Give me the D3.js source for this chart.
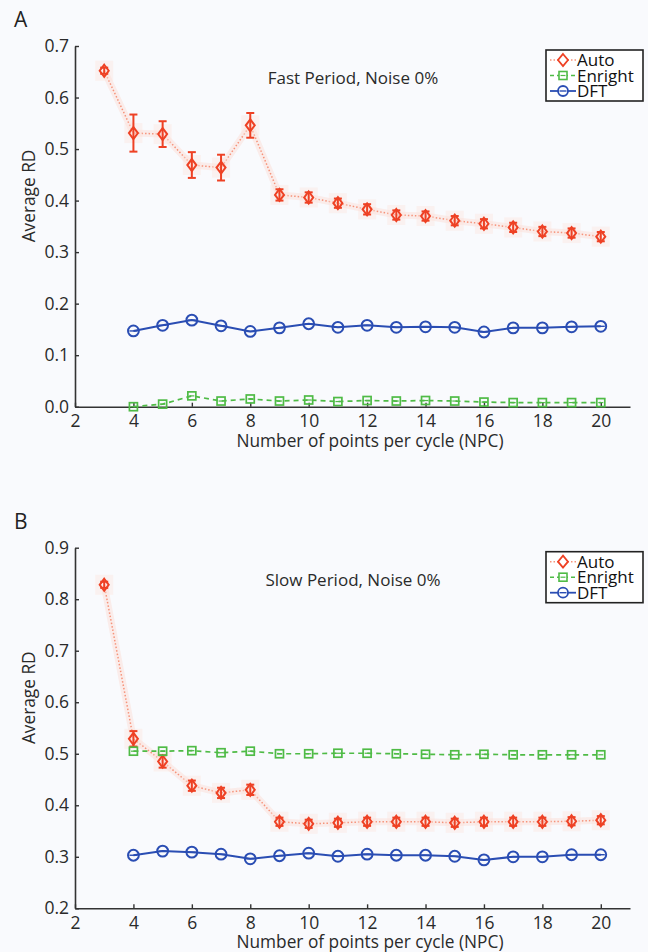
<!DOCTYPE html>
<html>
<head>
<meta charset="utf-8">
<script src="https://cdn.jsdelivr.net/npm/d3@7"></script>
<style>
  body { margin: 0; background: #f9fafd; }
  svg { display: block; font-family: "Open Sans", "Noto Sans", sans-serif; }
</style>
</head>
<body>
<div id="chart"></div>
<script>
// x values (number of points per cycle)
const npcAuto = [3,4,5,6,7,8,9,10,11,12,13,14,15,16,17,18,19,20]
const npc = [4,5,6,7,8,9,10,11,12,13,14,15,16,17,18,19,20]
const xTicks = [2,4,6,8,10,12,14,16,18,20]

// panel A - fast period
const autoFast = [0.652,0.531,0.529,0.469,0.464,0.546,0.411,0.406,0.395,0.383,0.372,0.370,0.361,0.355,0.348,0.340,0.337,0.330]
const autoFastErr = [0.006,0.036,0.025,0.025,0.025,0.024,0.011,0.010,0.009,0.010,0.009,0.009,0.009,0.009,0.009,0.009,0.009,0.009]
const enrightFast = [0.000,0.005,0.021,0.011,0.015,0.011,0.013,0.010,0.012,0.011,0.012,0.011,0.009,0.008,0.008,0.008,0.008]
const dftFast = [0.147,0.158,0.168,0.157,0.146,0.153,0.161,0.154,0.158,0.154,0.155,0.154,0.145,0.153,0.153,0.155,0.156]
const yTicksFast = [0.0,0.1,0.2,0.3,0.4,0.5,0.6,0.7]

// panel B - slow period
const autoSlow = [0.828,0.529,0.485,0.438,0.424,0.430,0.368,0.364,0.366,0.368,0.368,0.368,0.366,0.368,0.368,0.368,0.369,0.371]
const autoSlowErr = [0.006,0.015,0.012,0.010,0.010,0.010,0.008,0.008,0.008,0.008,0.008,0.008,0.008,0.008,0.008,0.008,0.008,0.008]
const enrightSlow = [0.505,0.505,0.506,0.502,0.505,0.500,0.500,0.501,0.501,0.500,0.499,0.498,0.499,0.498,0.498,0.498,0.498]
const dftSlow = [0.303,0.311,0.309,0.305,0.296,0.302,0.307,0.301,0.305,0.303,0.303,0.301,0.294,0.300,0.300,0.304,0.304]
const yTicksSlow = [0.2,0.3,0.4,0.5,0.6,0.7,0.8,0.9]

const legendNames = ["Auto", "Enright", "DFT"]

const red = "#ee4124", redLine = "#f6937a", green = "#4fbb46", blue = "#2a4db3", axisCol = "#333"

const svg = d3.select("#chart").append("svg")
    .attr("width", 648)
    .attr("height", 952)

function drawPanel(opt) {
    const g = svg.append("g")
    const x = d3.scaleLinear().domain([2, 21]).range([75, 630])
    const y = d3.scaleLinear().domain(opt.yDomain).range([opt.bottom, opt.top])

    g.append("text").attr("x", 14).attr("y", opt.top - 19)
        .attr("font-size", 21).attr("fill", "#222").text(opt.letter)

    // axes (matlab style, ticks pointing in)
    const xAxis = g.append("g").attr("transform", `translate(0,${opt.bottom})`)
        .call(d3.axisBottom(x).tickValues(xTicks).tickSizeInner(-4).tickSizeOuter(0).tickPadding(8))
    const yAxis = g.append("g").attr("transform", "translate(75,0)")
        .call(d3.axisLeft(y).tickValues(opt.yTicks).tickFormat(d3.format(".1f")).tickSizeInner(-4).tickSizeOuter(0).tickPadding(6))
    for (const a of [xAxis, yAxis]) {
        a.select(".domain").attr("stroke", axisCol).attr("stroke-width", 1.6)
        a.selectAll(".tick line").attr("stroke", axisCol).attr("stroke-width", 1.4)
        a.selectAll(".tick text").attr("font-size", 17.5).attr("fill", "#2a2a2a")
            .attr("font-family", "'Open Sans', sans-serif")
    }

    g.append("text").attr("x", 370).attr("y", opt.bottom + 40)
        .attr("text-anchor", "middle").attr("font-size", 17.3).attr("fill", "#2a2a2a")
        .text("Number of points per cycle (NPC)")
    g.append("text")
        .attr("transform", `translate(35,${opt.top + 150}) rotate(-90)`)
        .attr("text-anchor", "middle").attr("font-size", 17.3).attr("fill", "#2a2a2a")
        .text("Average RD")
    g.append("text").attr("x", 353).attr("y", opt.top + 38)
        .attr("text-anchor", "middle").attr("font-size", 17).attr("fill", "#2a2a2a")
        .text(opt.title)

    // Auto: glowing dotted line with diamonds and error bars
    const autoPts = npcAuto.map((d, i) => ({x: d, y: opt.auto[i], e: opt.autoErr[i]}))
    const autoLine = d3.line().x(d => x(d.x)).y(d => y(d.y))
    g.append("path").datum(autoPts).attr("d", autoLine)
        .attr("fill", "none").attr("stroke", "#fcd8cd").attr("stroke-width", 7).attr("opacity", 0.4)
    g.append("path").datum(autoPts).attr("d", autoLine)
        .attr("fill", "none").attr("stroke", redLine).attr("stroke-width", 1.5)
        .attr("stroke-dasharray", "1.5,2")
    const ag = g.selectAll(".auto").data(autoPts).enter().append("g")
        .attr("transform", d => `translate(${x(d.x)},0)`)
    ag.append("rect").attr("x", -9).attr("y", d => y(d.y) - 10).attr("width", 18).attr("height", 20)
        .attr("fill", "#fde3db").attr("opacity", 0.4)
    ag.append("line").attr("y1", d => y(d.y + d.e)).attr("y2", d => y(d.y - d.e))
        .attr("stroke", red).attr("stroke-width", 2)
    ag.append("line").attr("x1", -4).attr("x2", 4).attr("y1", d => y(d.y + d.e)).attr("y2", d => y(d.y + d.e))
        .attr("stroke", red).attr("stroke-width", 2)
    ag.append("line").attr("x1", -4).attr("x2", 4).attr("y1", d => y(d.y - d.e)).attr("y2", d => y(d.y - d.e))
        .attr("stroke", red).attr("stroke-width", 2)
    ag.append("path").attr("d", d => `M0,${y(d.y) - 6}L4.5,${y(d.y)}L0,${y(d.y) + 6}L-4.5,${y(d.y)}Z`)
        .attr("fill", "none").attr("stroke", red).attr("stroke-width", 2)

    // Enright: dashed green with squares
    const enPts = npc.map((d, i) => ({x: d, y: opt.enright[i]}))
    g.append("path").datum(enPts).attr("d", d3.line().x(d => x(d.x)).y(d => y(d.y)))
        .attr("fill", "none").attr("stroke", green).attr("stroke-width", 1.7).attr("stroke-dasharray", "5,4")
    const eg = g.selectAll(".en").data(enPts).enter().append("g")
        .attr("transform", d => `translate(${x(d.x)},${y(d.y)})`)
    eg.append("rect").attr("x", -4).attr("y", -4).attr("width", 8).attr("height", 8)
        .attr("fill", "none").attr("stroke", green).attr("stroke-width", 1.7)
    eg.append("line").attr("x1", -2.5).attr("x2", 2.5).attr("stroke", green).attr("stroke-width", 1.2)

    // DFT: solid blue with circles
    const dftPts = npc.map((d, i) => ({x: d, y: opt.dft[i]}))
    g.append("path").datum(dftPts).attr("d", d3.line().x(d => x(d.x)).y(d => y(d.y)))
        .attr("fill", "none").attr("stroke", blue).attr("stroke-width", 2)
    const dg = g.selectAll(".dft").data(dftPts).enter().append("g")
        .attr("transform", d => `translate(${x(d.x)},${y(d.y)})`)
    dg.append("circle").attr("r", 5.4).attr("fill", "none").attr("stroke", blue).attr("stroke-width", 2)
    dg.append("line").attr("x1", -4).attr("x2", 4).attr("stroke", blue).attr("stroke-width", 1.4)

    // legend
    const lg = g.append("g").attr("transform", `translate(546,${opt.top + 4})`)
    lg.append("rect").attr("width", 97).attr("height", 51)
        .attr("fill", "#fff").attr("stroke", "#222").attr("stroke-width", 1.6)
    legendNames.forEach((name, i) => {
        const cy = 10 + i * 15.5
        const row = lg.append("g").attr("transform", `translate(0,${cy})`)
        if (i === 0) {
            row.append("line").attr("x1", 4).attr("x2", 30).attr("stroke", redLine)
                .attr("stroke-width", 1.5).attr("stroke-dasharray", "1.5,2")
            row.append("path").attr("d", "M17,-6L22,0L17,6L12,0Z").attr("fill", "#fff")
                .attr("stroke", red).attr("stroke-width", 1.8)
        } else if (i === 1) {
            row.append("line").attr("x1", 4).attr("x2", 30).attr("stroke", green)
                .attr("stroke-width", 1.6).attr("stroke-dasharray", "4,3")
            row.append("rect").attr("x", 13).attr("y", -4).attr("width", 8).attr("height", 8)
                .attr("fill", "#fff").attr("stroke", green).attr("stroke-width", 1.6)
            row.append("line").attr("x1", 14.5).attr("x2", 19.5).attr("stroke", green).attr("stroke-width", 1.2)
        } else {
            row.append("line").attr("x1", 4).attr("x2", 30).attr("stroke", blue).attr("stroke-width", 1.8)
            row.append("circle").attr("cx", 17).attr("r", 5).attr("fill", "#fff")
                .attr("stroke", blue).attr("stroke-width", 1.8)
            row.append("line").attr("x1", 13.5).attr("x2", 20.5).attr("stroke", blue).attr("stroke-width", 1.4)
        }
        row.append("text").attr("x", 31).attr("y", 6).attr("font-size", 17).attr("fill", "#111").text(name)
    })
}

drawPanel({letter: "A", top: 46, bottom: 406.7, yDomain: [0, 0.7], yTicks: yTicksFast,
    title: "Fast Period, Noise 0%", auto: autoFast, autoErr: autoFastErr, enright: enrightFast, dft: dftFast})
drawPanel({letter: "B", top: 547.7, bottom: 908.3, yDomain: [0.2, 0.9], yTicks: yTicksSlow,
    title: "Slow Period, Noise 0%", auto: autoSlow, autoErr: autoSlowErr, enright: enrightSlow, dft: dftSlow})
</script>
</body>
</html>
